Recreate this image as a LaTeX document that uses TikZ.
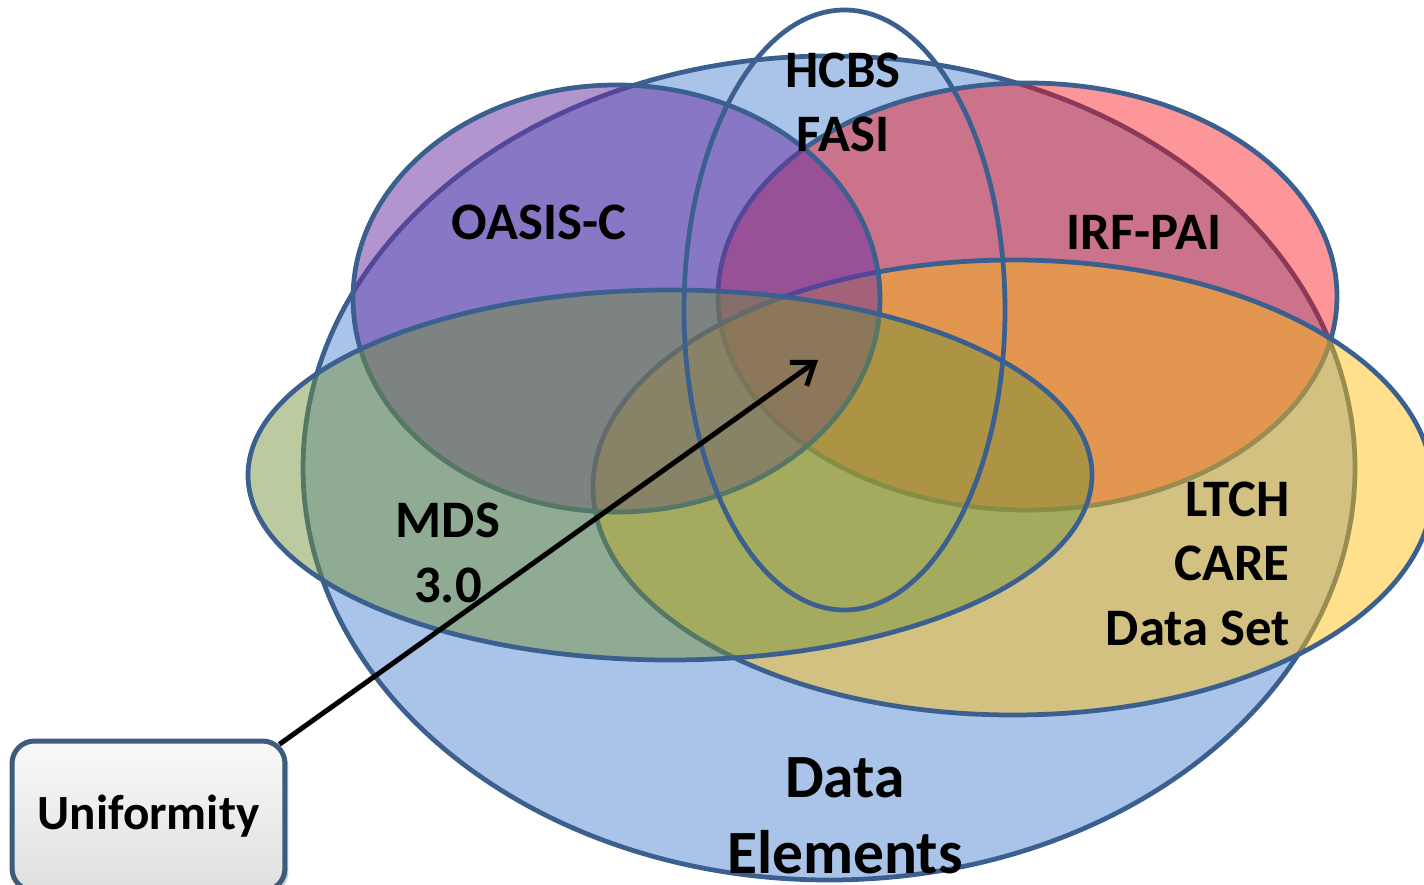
\documentclass[tikz,border=0pt]{standalone}
\usepackage{fontspec}
\setmainfont{Carlito}
\usetikzlibrary{arrows.meta,shadows}
\definecolor{rim}{RGB}{59,96,143}
\definecolor{skyfill}{RGB}{169,196,232}
\definecolor{irffill}{RGB}{250,5,10}
\definecolor{ltchfill}{RGB}{255,190,15}
\definecolor{oasisfill}{RGB}{107,49,163}
\definecolor{mdsfill}{RGB}{115,145,57}
\definecolor{unirim}{RGB}{62,90,124}
\pgfdeclarelayer{front}
\pgfsetlayers{main,front}
\begin{document}
\begin{tikzpicture}[x=0.02cm,y=-0.02cm,
  set/.style={draw=rim,line width=0.095cm},
  lbl/.style={font=\bfseries\fontsize{30}{36.5}\selectfont,inner sep=0pt,align=center},
  biglbl/.style={font=\bfseries\fontsize{35}{43}\selectfont,inner sep=0pt,align=center},
  unibox/.style={draw=unirim,line width=0.1cm,rounded corners=0.45cm,minimum width=5.46cm,minimum height=3cm,top color=gray!5,bottom color=gray!25,font=\bfseries\fontsize{28}{34}\selectfont,drop shadow={opacity=0.4,shadow xshift=0.07cm,shadow yshift=-0.07cm}},
  uniarrow/.style={line width=0.1cm,-{Straight Barb[length=0.4cm,width=0.58cm]}}]
\useasboundingbox (0,0) rectangle (1424,885);
\clip (0,0) rectangle (1424,885);
\draw [set,fill=skyfill] (829,468) ellipse [x radius=526,y radius=412];
\draw [set,fill=irffill,fill opacity=0.42] (1027.5,296.5) ellipse [x radius=309.5,y radius=213.5];
\draw [set,fill=ltchfill,fill opacity=0.48] (1013,487.5) ellipse [x radius=420,y radius=227.5];
\draw [set,fill=oasisfill,fill opacity=0.52] (616.5,298.5) ellipse [x radius=263.5,y radius=213.5];
\draw [set,fill=mdsfill,fill opacity=0.48] (670,475) ellipse [x radius=422,y radius=185];
\draw [set] (844.5,310) ellipse [x radius=160.5,y radius=300];
\node [lbl,anchor=base] (hcbs) at (843,152) {HCBS\\FASI};
\node [lbl,anchor=base] (oasis) at (539,240) {OASIS-C};
\node [lbl,anchor=base] (irf) at (1144,250) {IRF-PAI};
\node [lbl,anchor=base] (mds) at (448,602) {MDS\\3.0};
\node [lbl,align=right,anchor=base east] (ltch) at (1290,645) {LTCH\\CARE\\Data Set};
\node [biglbl,anchor=base] (data) at (845,873) {Data\\Elements};
\coordinate (core) at (818,360);
\begin{pgfonlayer}{front}
\node [unibox] (uni) at (148.5,816) {Uniformity};
\end{pgfonlayer}
\draw [uniarrow,shorten <=-0.2cm] (uni.north east) -- (core);
\end{tikzpicture}
\end{document}
